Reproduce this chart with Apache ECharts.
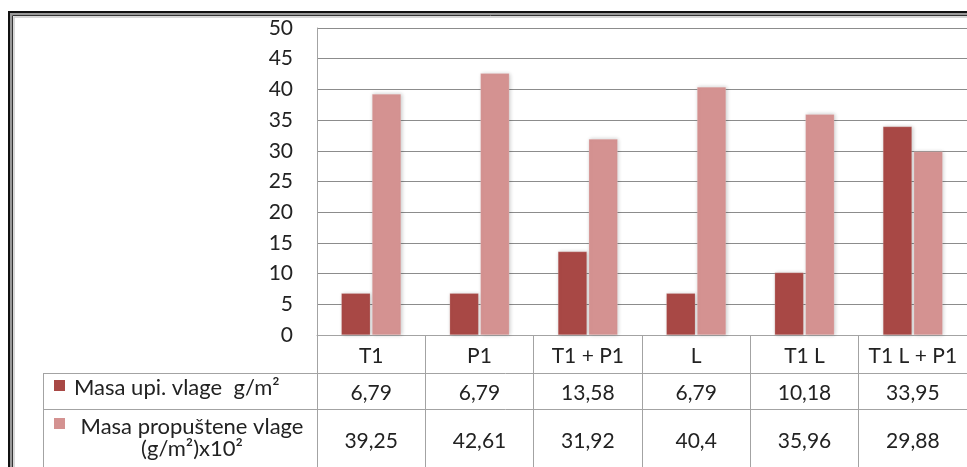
<!DOCTYPE html>
<html><head><meta charset="utf-8">
<script src="https://cdn.jsdelivr.net/npm/echarts@6/dist/echarts.min.js"></script>
<style>html,body{margin:0;padding:0;background:#fff;overflow:hidden}#c{width:967px;height:467px}</style>
</head><body><div id="c"></div>
<script>
// ---- data ----
const categories = ['T1', 'P1', 'T1 + P1', 'L', 'T1 L', 'T1 L + P1'];
const seriesNames = ['Masa upi. vlage  g/m²', 'Masa propuštene vlage\n(g/m²)x10²'];
const masaUpijeneVlage = [6.79, 6.79, 13.58, 6.79, 10.18, 33.95];
const masaPropusteneVlage = [39.25, 42.61, 31.92, 40.4, 35.96, 29.88];
const yMin = 0, yMax = 50, yStep = 5;

// ---- styles ----
const darkColor = '#A84845';
const lightColor = '#D49291';
const textColor = '#222';
const font = 'Lato';
const fs = 21;
const lineColor = '#a3a3a3';

const fmt = v => String(v).replace('.', ',');

const chart = echarts.init(document.getElementById('c'), null, {renderer: 'canvas'});

const barStyle = c => ({
  color: c,
  borderColor: 'rgba(255,255,255,0.35)',
  borderWidth: 0.5,
  shadowBlur: 4,
  shadowColor: 'rgba(0,0,0,0.22)',
  shadowOffsetX: 1,
  shadowOffsetY: 0
});

chart.setOption({
  animation: false,
  backgroundColor: '#fff',
  textStyle: {fontFamily: font},
  grid: {left: 317, top: 28, right: -7, bottom: 132, containLabel: false},
  xAxis: {
    type: 'category',
    data: categories,
    axisLine: {show: true, lineStyle: {color: lineColor, width: 1}},
    axisTick: {show: true, length: 140, interval: 0, alignWithLabel: false, lineStyle: {color: lineColor, width: 1}},
    axisLabel: {
      interval: 0,
      margin: 2,
      fontFamily: font,
      color: textColor,
      fontSize: fs,
      formatter: (name, idx) => `{h|${name}}\n{a|${fmt(masaUpijeneVlage[idx])}}\n{b|${fmt(masaPropusteneVlage[idx])}}`,
      rich: {
        h: {lineHeight: 38, fontSize: fs, fontFamily: font, color: textColor},
        a: {lineHeight: 36, fontSize: fs, fontFamily: font, color: textColor},
        b: {lineHeight: 60, fontSize: fs, fontFamily: font, color: textColor}
      }
    },
    splitLine: {show: false}
  },
  yAxis: {
    type: 'value',
    min: yMin, max: yMax, interval: yStep,
    axisLine: {show: true, lineStyle: {color: lineColor, width: 1}},
    axisTick: {show: false},
    axisLabel: {margin: 24, fontSize: fs, fontFamily: font, color: textColor},
    splitLine: {show: true, lineStyle: {color: '#8c8c8c', width: 1}}
  },
  series: [
    {name: seriesNames[0], type: 'bar', data: masaUpijeneVlage, barWidth: 29, barGap: '6%', itemStyle: barStyle(darkColor)},
    {name: seriesNames[1], type: 'bar', data: masaPropusteneVlage, barWidth: 29, barGap: '6%', itemStyle: barStyle(lightColor)}
  ],
  graphic: [
    // outer frame (double border)
    {type: 'rect', shape: {x: 9, y: 12, width: 1000, height: 500}, style: {fill: 'none', stroke: '#111', lineWidth: 2}, silent: true},
    {type: 'rect', shape: {x: 11, y: 14, width: 1000, height: 500}, style: {fill: 'none', stroke: '#999', lineWidth: 2}, silent: true},
    {type: 'rect', shape: {x: 12.5, y: 15.5, width: 1000, height: 500}, style: {fill: 'none', stroke: '#333', lineWidth: 1}, silent: true},
    {type: 'rect', shape: {x: 14, y: 17, width: 1000, height: 500}, style: {fill: 'none', stroke: '#ccc', lineWidth: 1.5}, silent: true},
    // data table lines
    {type: 'line', shape: {x1: 43, y1: 373.5, x2: 980, y2: 373.5}, style: {stroke: lineColor, lineWidth: 1}, silent: true},
    {type: 'line', shape: {x1: 43, y1: 409.5, x2: 980, y2: 409.5}, style: {stroke: lineColor, lineWidth: 1}, silent: true},
    {type: 'line', shape: {x1: 43.5, y1: 373, x2: 43.5, y2: 480}, style: {stroke: lineColor, lineWidth: 1}, silent: true},
    // legend keys
    {type: 'rect', shape: {x: 54, y: 380, width: 11, height: 11}, style: {fill: darkColor}, silent: true},
    {type: 'text', x: 74, y: 388, style: {text: seriesNames[0], font: '22px ' + font, fill: textColor, verticalAlign: 'middle', align: 'left'}, silent: true},
    {type: 'rect', shape: {x: 54, y: 418, width: 11, height: 11}, style: {fill: lightColor}, silent: true},
    {type: 'text', x: 192, y: 438, style: {text: seriesNames[1], font: '22px ' + font, fill: textColor, verticalAlign: 'middle', align: 'center', lineHeight: 21.5}, silent: true}
  ]
});
</script>
</body></html>
